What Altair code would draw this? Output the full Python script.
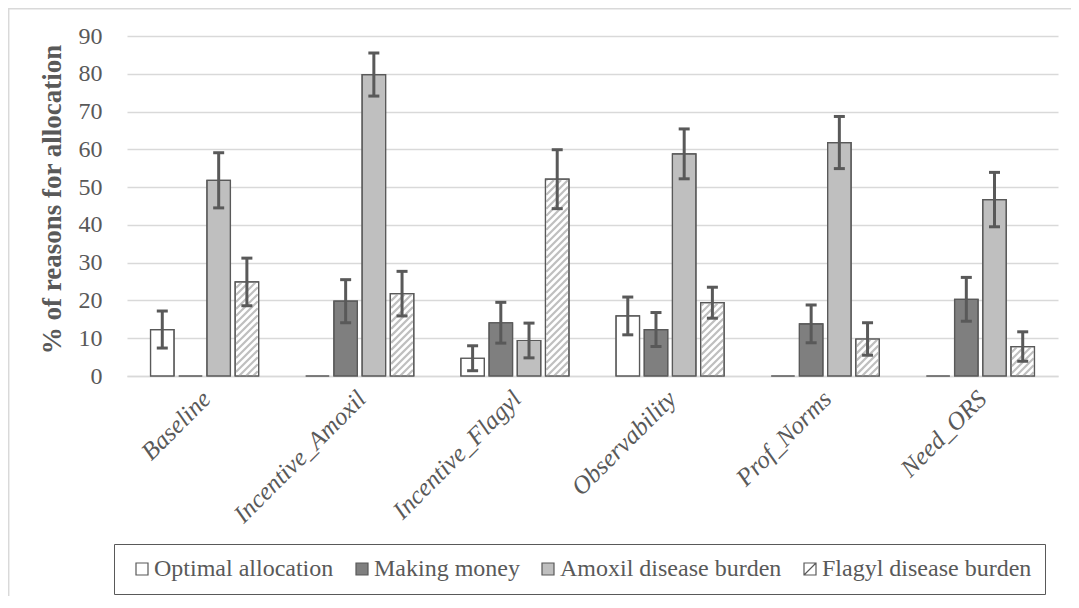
import altair as alt
import pandas as pd

# ---------------- data ----------------
categories = ["Baseline", "Incentive_Amoxil", "Incentive_Flagyl",
              "Observability", "Prof_Norms", "Need_ORS"]
series = ["Optimal allocation", "Making money",
          "Amoxil disease burden", "Flagyl disease burden"]

optimal = [12.3, 0.0, 4.7, 15.9, 0.0, 0.0]
optimal_err = [4.9, 0.0, 3.3, 5.0, 0.0, 0.0]
money = [0.0, 19.8, 14.1, 12.3, 13.8, 20.3]
money_err = [0.0, 5.7, 5.4, 4.5, 5.0, 5.8]
amoxil = [51.8, 79.8, 9.4, 58.8, 61.8, 46.7]
amoxil_err = [7.3, 5.7, 4.6, 6.6, 6.9, 7.2]
flagyl = [24.9, 21.8, 52.1, 19.4, 9.8, 7.8]
flagyl_err = [6.3, 5.9, 7.8, 4.1, 4.3, 3.9]

y_ticks = [0, 10, 20, 30, 40, 50, 60, 70, 80, 90]

values = [optimal, money, amoxil, flagyl]
errors = [optimal_err, money_err, amoxil_err, flagyl_err]

# ---------------- layout / style ----------------
W, H = 931, 340
YMAX = 90
SX = W / len(categories)          # px per category unit
BW = 23.5 / SX                    # bar width (category units)
STEP = 28.2 / SX                  # bar step (category units)
CAP = 5.5 / SX                    # half cap width
HATCH_P = 7.0                     # hatch spacing in px

GREY = "#595959"
GRID = "#d9d9d9"
FONT = "Liberation Serif"
LEG_FONT = "Liberation Serif, serif"
fill_colors = ["white", "#7f7f7f", "#bfbfbf", "white"]
legend_shapes = ["square", "square", "square", "M-1,-1H1V1H-1Z M-1,1L1,-1"]

rows, err_rows, hatch_rows = [], [], []
for i, cat in enumerate(categories):
    for k, s in enumerate(series):
        v = values[k][i]
        e = errors[k][i]
        xc = i + (k - 1.5) * STEP
        rows.append(dict(category=cat, series=s, value=v,
                         x0=xc - BW / 2, x1=xc + BW / 2))
        if e > 0:
            err_rows.append(dict(series=s, xc=xc, lo=v - e, hi=v + e,
                                 cl=xc - CAP, cr=xc + CAP))
        if k == 3 and v > 0:
            # diagonal hatch lines clipped to the bar, derived from the bar value
            X0 = (xc - BW / 2 + 0.5) * SX + 0.8
            X1 = (xc + BW / 2 + 0.5) * SX - 0.8
            Ht = v * H / YMAX - 0.8
            c = (int((X0 - Ht) // HATCH_P)) * HATCH_P
            while c < X1:
                lo = max(X0, c)
                hi = min(X1, c + Ht)
                if hi - lo > 0.5:
                    hatch_rows.append(dict(
                        hx1=lo / SX - 0.5, hy1=(lo - c) * YMAX / H,
                        hx2=hi / SX - 0.5, hy2=(hi - c) * YMAX / H))
                c += HATCH_P

bars = pd.DataFrame(rows)
errs = pd.DataFrame(err_rows)
hatch = pd.DataFrame(hatch_rows)
leg = pd.DataFrame({"series": series, "px": [0.0] * 4, "py": [-100.0] * 4})
frame = pd.DataFrame({"k": [0]})

label_expr = "[" + ",".join("'%s'" % c for c in categories) + "][round(datum.value)]"

xscale = alt.Scale(domain=[-0.5, len(categories) - 0.5], nice=False, zero=False)
yscale = alt.Scale(domain=[0, YMAX], nice=False)

xaxis = alt.Axis(values=list(range(len(categories))), labelExpr=label_expr,
                 labelAngle=-45, labelAlign="right", labelBaseline="top",
                 labelFont=FONT, labelFontStyle="italic",
                 labelFontSize=25, labelColor=GREY, labelPadding=10,
                 labelOffset=-7, grid=False, ticks=False,
                 domainColor=GRID, domainWidth=1.5, title=None)
yaxis = alt.Axis(values=y_ticks, labelFont=FONT, labelFontSize=24,
                 labelColor=GREY, labelPadding=25, grid=True, gridColor=GRID,
                 gridWidth=1.5, domain=False, ticks=False,
                 title="% of reasons for allocation", titleFont=FONT,
                 titleFontSize=27, titleFontWeight="bold", titleColor=GREY,
                 titleX=-67, titleY=163, titleAngle=-90, titleAlign="center",
                 titleBaseline="alphabetic")


def X(field):
    return alt.X(field, type="quantitative", scale=xscale, axis=xaxis)


def Y(field):
    return alt.Y(field, type="quantitative", scale=yscale, axis=yaxis)


LEG_FS = 24
fill_scale = alt.Scale(domain=series, range=fill_colors)
legend_cfg = dict(orient="none", legendX=-13, legendY=508, direction="horizontal",
                  title=None, symbolStrokeColor=GREY, symbolStrokeWidth=1.2,
                  labelFont=LEG_FONT, labelFontSize=LEG_FS, labelColor=GREY,
                  labelLimit=500)

legend_layer = alt.Chart(leg).mark_point(
    filled=True, size=144, clip=True, strokeWidth=1.2, opacity=1
).encode(
    x=X("px"), y=Y("py"),
    fill=alt.Fill("series:N", scale=fill_scale, legend=alt.Legend(**legend_cfg)),
    stroke=alt.Stroke("series:N", scale=alt.Scale(domain=series, range=[GREY] * 4),
                      legend=alt.Legend(**legend_cfg)),
    shape=alt.Shape("series:N", scale=alt.Scale(domain=series, range=legend_shapes),
                    legend=alt.Legend(**legend_cfg)),
)

bar_layer = alt.Chart(bars).mark_rect(stroke=GREY, strokeWidth=1.2).encode(
    x=X("x0"), x2="x1", y=Y("value"), y2=alt.datum(0),
    fill=alt.Fill("series:N", scale=fill_scale, legend=None),
)

hatch_layer = alt.Chart(hatch).mark_rule(color="#bfbfbf", strokeWidth=2.2).encode(
    x=X("hx1"), x2="hx2", y=Y("hy1"), y2="hy2",
)

outline_layer = alt.Chart(bars).mark_rect(
    fill="transparent", stroke=GREY, strokeWidth=1.2
).encode(x=X("x0"), x2="x1", y=Y("value"), y2=alt.datum(0))

err_line = alt.Chart(errs).mark_rule(color=GREY, strokeWidth=3).encode(
    x=X("xc"), y=Y("lo"), y2="hi")
cap_lo = alt.Chart(errs).mark_rule(color=GREY, strokeWidth=3).encode(
    x=X("cl"), x2="cr", y=Y("lo"))
cap_hi = alt.Chart(errs).mark_rule(color=GREY, strokeWidth=3).encode(
    x=X("cl"), x2="cr", y=Y("hi"))

frame_layer = alt.Chart(frame).mark_rect(
    fill="transparent", stroke=GRID, strokeWidth=1.5
).encode(x=alt.value(-118.3), y=alt.value(-27.3),
         x2=alt.value(2000), y2=alt.value(2000))

chart = alt.layer(
    frame_layer, legend_layer, bar_layer, hatch_layer, outline_layer,
    err_line, cap_lo, cap_hi
).properties(
    width=W, height=H,
    autosize=alt.AutoSizeParams(type="none"),
    padding={"left": 119, "top": 28, "right": 13, "bottom": 220},
    background="white",
).configure(
    font=FONT,
    style={"guide-label": {"font": LEG_FONT}},
).configure_view(
    stroke=None
).configure_legend(
    padding=13, strokeColor=GREY, labelFont=LEG_FONT, labelFontSize=LEG_FS,
    labelColor=GREY, labelLimit=500, symbolSize=144, symbolStrokeColor=GREY,
    symbolStrokeWidth=1.2, labelOffset=0, columnPadding=13, symbolOffset=3,
)

chart.save("out.html", embed_options={"renderer": "svg", "actions": False})
